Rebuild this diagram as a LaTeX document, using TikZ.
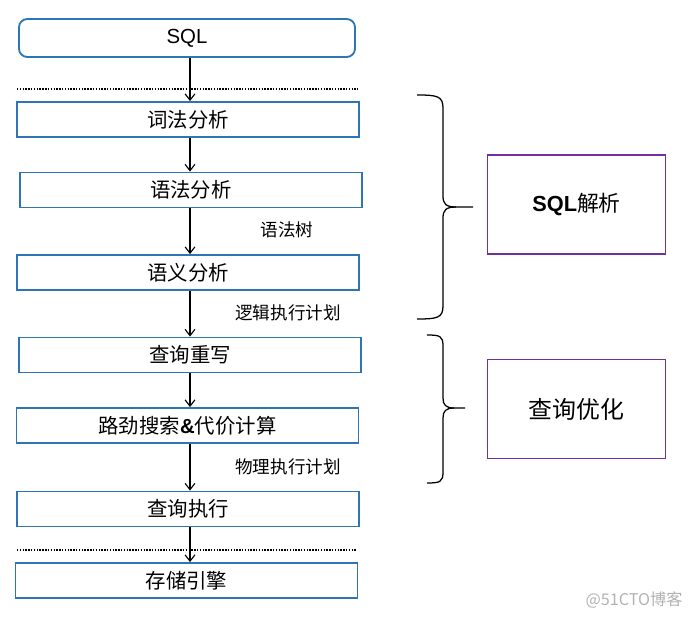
\documentclass[tikz,border=0pt]{standalone}
\usepackage{fontspec}
\setmainfont{Noto Sans CJK SC}
\newfontfamily\latin{Liberation Sans}
\usetikzlibrary{arrows.meta}
\definecolor{boxblue}{RGB}{46,117,182}
\definecolor{grouppurple}{RGB}{112,48,160}

\begin{document}
\begin{tikzpicture}[x=0.025cm,y=-0.025cm, >={Straight Barb[length=4.5pt,width=7pt]},
  stage/.style={draw=boxblue, line width=1.3pt, minimum width=8.55cm, minimum height=0.875cm, inner sep=0pt, font=\fontsize{14.5}{16}\selectfont},
  group/.style={draw=grouppurple, line width=1pt, minimum width=4.45cm, minimum height=2.48cm, inner sep=0pt},
  note/.style={inner sep=0pt, font=\fontsize{12.5}{14}\selectfont}]
\useasboundingbox (0,0) rectangle (693,618);

% Stages 
\path
(187,38)     node[stage, rounded corners=6pt, minimum width=8.4cm, minimum height=0.95cm] (sql) {\latin SQL}
(188,119.5)  node[stage] (lex) {词法分析}
(191,190)    node[stage] (syn) {语法分析}
(188,272.5)  node[stage] (sem) {语义分析}
(190,355)    node[stage] (rw) {查询重写}
(187.5,425.5) node[stage] (cost) {路劲搜索{\latin\bfseries\&}代价计算}
(188,509)    node[stage] (exe) {查询执行}
(186.5,580.5) node[stage] (store) {存储引擎}
;
\coordinate (axis) at (190,0);

% Notes 
\path
(287,230)  node[note] (tree) {语法树}
(288,313)  node[note] (logic) {逻辑执行计划}
(288,467)  node[note] (phys) {物理执行计划}
;

\draw[->, line width=0.8pt] (axis |- sql.south)--(axis |- lex.north);
\draw[->, line width=0.8pt] (axis |- lex.south)--(axis |- syn.north);
\draw[->, line width=0.8pt] (axis |- syn.south)--(axis |- sem.north);
\draw[->, line width=0.8pt] (axis |- sem.south)--(axis |- rw.north);
\draw[->, line width=0.8pt] (axis |- rw.south)--(axis |- cost.north);
\draw[->, line width=0.8pt] (axis |- cost.south)--(axis |- exe.north);
\draw[->, line width=0.8pt] (axis |- exe.south)--(axis |- store.north);

% Layer lines 
\draw[densely dotted, line width=1pt] (17,89)--(358,89);
\draw[densely dotted, line width=1pt] (17,550)--(357,550);

% Groups 
\path
(576.5,204.5) node[group, font=\fontsize{15.5}{17}\selectfont] (parse) {{\latin\bfseries SQL}解析}
(576.5,409)   node[group, font=\fontsize{17}{19}\selectfont] (opt) {查询优化}
;

\draw[line width=0.9pt] (417,95) .. controls (437,95) and (443,96) .. (443,108) -- (443,196)
  .. controls (443,204) and (446,207) .. (456,207) -- (473,207);
\draw[line width=0.9pt] (417,319) .. controls (437,319) and (443,318) .. (443,306) -- (443,218)
  .. controls (443,210) and (446,207) .. (456,207);

\draw[line width=0.9pt] (427,335) .. controls (440,335) and (443,336) .. (443,346) -- (443,398)
  .. controls (443,405) and (446,408) .. (454,408) -- (465,408);
\draw[line width=0.9pt] (427,483) .. controls (440,483) and (443,482) .. (443,472) -- (443,418)
  .. controls (443,411) and (446,408) .. (454,408);

\node[text=gray!60, inner sep=0pt, font=\fontsize{11.5}{13}\selectfont] (mark) at (634,600) {@51CTO博客};

\end{tikzpicture}
\end{document}
